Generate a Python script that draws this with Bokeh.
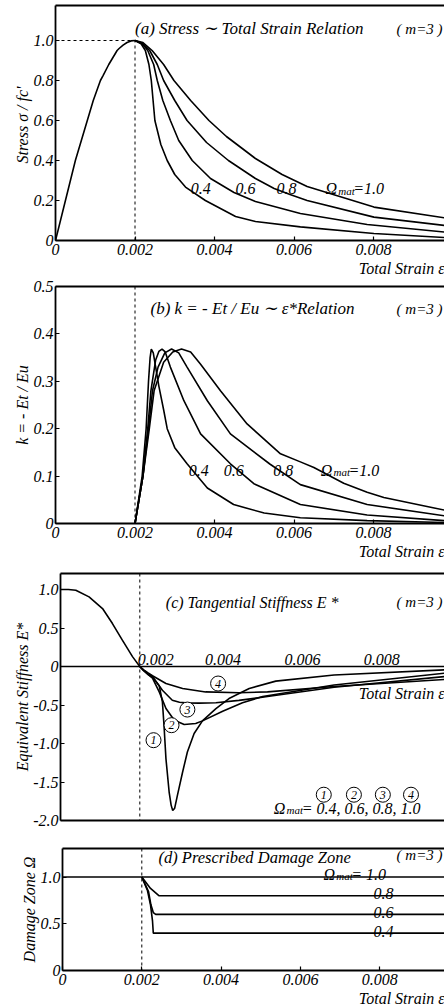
from bokeh.plotting import figure
from bokeh.layouts import column, row
from bokeh.models import FixedTicker, LinearAxis, Label, Span, ColumnDataSource, Title, Spacer
from bokeh.embed import file_html
from bokeh.resources import INLINE
from bokeh.core.properties import value

FONT = "Liberation Serif"

# ---------------- data ----------------
x_ticks = [0, 0.002, 0.004, 0.006, 0.008]
x_tick_labels = ["0", "0.002", "0.004", "0.006", "0.008"]
peak_strain = 0.002
peak_stress = 1.0

# (a) stress - total strain
a_yticks = [0, 0.2, 0.4, 0.6, 0.8, 1.0]
a_ylabels = ["0", "0.2", "0.4", "0.6", "0.8", "1.0"]
a_asc_eps = [0, 0.00025, 0.0005, 0.0008, 0.00095, 0.00113, 0.0012, 0.00134, 0.0014, 0.00155, 0.0016, 0.0017, 0.0018, 0.0019, 0.002]
a_asc_sig = [0, 0.2, 0.4, 0.6, 0.7, 0.8, 0.826, 0.88, 0.9, 0.95, 0.96, 0.977, 0.99, 0.998, 1.0]
a_eps_04 = [0.002, 0.00215, 0.00226, 0.00235, 0.00241, 0.0025, 0.00265, 0.00281, 0.003, 0.00327, 0.00377, 0.00453, 0.00503, 0.00616, 0.00801, 0.0098]
a_sig_04 = [1.0, 0.985, 0.95, 0.88, 0.8, 0.6, 0.48, 0.4, 0.33, 0.267, 0.2, 0.12, 0.095, 0.068, 0.035, 0.015]
a_eps_06 = [0.002, 0.0022, 0.00232, 0.00247, 0.00256, 0.0027, 0.00289, 0.0031, 0.00344, 0.0039, 0.00449, 0.00503, 0.00616, 0.00784, 0.0098]
a_sig_06 = [1.0, 0.98, 0.95, 0.88, 0.8, 0.7, 0.6, 0.5, 0.4, 0.31, 0.24, 0.195, 0.135, 0.08, 0.042]
a_eps_08 = [0.002, 0.0022, 0.00237, 0.00256, 0.00272, 0.003, 0.00331, 0.0038, 0.00435, 0.00503, 0.0055, 0.0059, 0.00633, 0.00801, 0.0098]
a_sig_08 = [1.0, 0.985, 0.95, 0.88, 0.8, 0.7, 0.6, 0.49, 0.4, 0.31, 0.26, 0.23, 0.2, 0.117, 0.075]
a_eps_10 = [0.002, 0.0022, 0.00243, 0.00272, 0.00298, 0.0034, 0.00386, 0.0043, 0.00503, 0.0057, 0.00633, 0.00801, 0.0098]
a_sig_10 = [1.0, 0.99, 0.95, 0.88, 0.8, 0.7, 0.6, 0.52, 0.41, 0.33, 0.27, 0.167, 0.113]

# (b) k = -Et/Eu
b_yticks = [0, 0.1, 0.2, 0.3, 0.4, 0.5]
b_ylabels = ["0", "0.1", "0.2", "0.3", "0.4", "0.5"]
b_eps_04 = [0.002, 0.00218, 0.00228, 0.00234, 0.00238, 0.00241, 0.00246, 0.00252, 0.0026, 0.00272, 0.00281, 0.003, 0.00331, 0.00382, 0.00448, 0.00525, 0.00616, 0.00784, 0.0098]
b_k_04 = [0, 0.1, 0.2, 0.3, 0.35, 0.368, 0.36, 0.33, 0.29, 0.24, 0.2, 0.16, 0.126, 0.075, 0.04, 0.022, 0.012, 0.006, 0.002]
b_eps_06 = [0.002, 0.0022, 0.00232, 0.0024, 0.00252, 0.0026, 0.00268, 0.00276, 0.00289, 0.00323, 0.00365, 0.0044, 0.00499, 0.00616, 0.00784, 0.0098]
b_k_06 = [0, 0.1, 0.2, 0.28, 0.345, 0.363, 0.368, 0.362, 0.33, 0.259, 0.189, 0.126, 0.084, 0.04, 0.018, 0.006]
b_eps_08 = [0.002, 0.0022, 0.00234, 0.00244, 0.00258, 0.00275, 0.00292, 0.0031, 0.00331, 0.00382, 0.0044, 0.0054, 0.00616, 0.00784, 0.0098]
b_k_08 = [0, 0.1, 0.2, 0.28, 0.33, 0.36, 0.368, 0.36, 0.33, 0.259, 0.189, 0.125, 0.082, 0.04, 0.016]
b_eps_10 = [0.002, 0.0022, 0.00236, 0.00248, 0.00272, 0.00295, 0.00317, 0.0034, 0.00365, 0.00415, 0.00482, 0.00566, 0.00616, 0.0065, 0.00725, 0.00784, 0.00826, 0.0098]
b_k_10 = [0, 0.1, 0.2, 0.28, 0.34, 0.362, 0.368, 0.362, 0.336, 0.28, 0.21, 0.147, 0.13, 0.118, 0.085, 0.066, 0.055, 0.028]

# (c) equivalent stiffness
c_yticks = [-2.0, -1.5, -1.0, -0.5, 0, 0.5, 1.0]
c_ylabels = ["-2.0", "-1.5", "-1.0", "-0.5", "0", "0.5", "1.0"]
c_asc_eps = [0, 0.0002, 0.000386, 0.00072, 0.00106, 0.00131, 0.00156, 0.00182, 0.002]
c_asc_E = [1.0, 1.0, 0.99, 0.904, 0.753, 0.558, 0.342, 0.125, 0.0]
c_eps_1 = [0.002, 0.0021, 0.0022, 0.00232, 0.00249, 0.00257, 0.00261, 0.00266, 0.00274, 0.00279, 0.00283, 0.00288, 0.00295, 0.00308, 0.0032, 0.00337, 0.00358, 0.00392, 0.00425, 0.00476, 0.00543, 0.0069, 0.0098]
c_E_1 = [0, -0.055, -0.1, -0.14, -0.25, -0.46, -0.76, -1.2, -1.63, -1.8, -1.87, -1.84, -1.67, -1.37, -1.11, -0.87, -0.706, -0.546, -0.416, -0.286, -0.19, -0.11, -0.04]
c_eps_2 = [0.002, 0.0021, 0.0022, 0.00232, 0.00249, 0.00266, 0.00287, 0.00312, 0.00341, 0.00358, 0.00409, 0.00459, 0.0051, 0.0058, 0.0069, 0.0098]
c_E_2 = [0, -0.055, -0.1, -0.15, -0.33, -0.546, -0.697, -0.754, -0.741, -0.706, -0.58, -0.47, -0.39, -0.33, -0.24, -0.08]
c_eps_3 = [0.002, 0.0021, 0.0022, 0.00232, 0.00257, 0.00282, 0.003, 0.00316, 0.0035, 0.00392, 0.0045, 0.00522, 0.0069, 0.0098]
c_E_3 = [0, -0.05, -0.09, -0.13, -0.308, -0.438, -0.465, -0.472, -0.475, -0.47, -0.44, -0.39, -0.27, -0.125]
c_eps_4 = [0.002, 0.0021, 0.0022, 0.00232, 0.00266, 0.00308, 0.00366, 0.0045, 0.00522, 0.0069, 0.0098]
c_E_4 = [0, -0.045, -0.08, -0.12, -0.221, -0.286, -0.33, -0.34, -0.33, -0.26, -0.165]
c_marks = ["1", "2", "3", "4"]
c_mark_eps = [0.002346, 0.0028, 0.0032, 0.003975]
c_mark_E = [-0.957, -0.762, -0.559, -0.221]
c_legend_eps = [0.00664, 0.0074, 0.00813, 0.00884]
c_legend_text = "= 0.4,  0.6,  0.8,  1.0"

# (d) damage zone
d_yticks = [0, 0.5, 1.0]
d_ylabels = ["0", "0.5", "1.0"]
d_eps_10 = [0, 0.0098]
d_val_10 = [1.0, 1.0]
d_eps_08 = [0.002, 0.00222, 0.00243, 0.0098]
d_val_08 = [1.0, 0.878, 0.8, 0.8]
d_eps_06 = [0.002, 0.00217, 0.00223, 0.00229, 0.00235, 0.0098]
d_val_06 = [1.0, 0.843, 0.703, 0.62, 0.6, 0.6]
d_eps_04 = [0.002, 0.00214, 0.00222, 0.00227, 0.00229, 0.0098]
d_val_04 = [1.0, 0.86, 0.70, 0.53, 0.4, 0.4]
d_level_labels = ["0.8", "0.6", "0.4"]
d_level_values = [0.8, 0.6, 0.4]

W = 444
LW = 1.6
BORDER_L = 55


def txt(p, x, y, text, size=16, align="left", baseline="middle", xo=0, yo=0, style="italic"):
    p.add_layout(Label(x=x, y=y, text=text, text_font=FONT, text_font_style=style,
                       text_font_size=f"{size}px", text_align=align, text_baseline=baseline,
                       x_offset=xo, y_offset=yo, text_color="black"))


def omega(p, x, y, tail, size=16, baseline="middle", yo=0):
    txt(p, x, y, "\u03a9", size=size, baseline=baseline, yo=yo)
    txt(p, x, y, "mat", size=int(size * 0.7), xo=size * 0.8, yo=yo - 2, baseline=baseline)
    txt(p, x, y, tail, size=size, xo=size * 0.8 + size * 0.7 * 1.35, baseline=baseline, yo=yo)


def base_fig(width, height, top, bottom, x_end, y0, y1, yticks, ylabels, ylabel, show_x=True):
    p = figure(width=width, height=height, x_range=(0, x_end), y_range=(y0, y1),
               output_backend="svg", toolbar_location=None,
               min_border_left=BORDER_L, min_border_right=0, min_border_top=top,
               min_border_bottom=bottom)
    p.grid.visible = False
    p.outline_line_color = None
    xa = p.xaxis[0]
    ya = p.yaxis[0]
    for ax in (xa, ya):
        ax.axis_line_width = 1.8
        ax.major_tick_in = 4
        ax.major_tick_out = 0
        ax.minor_tick_in = 0
        ax.minor_tick_out = 0
        ax.major_tick_line_width = 1.2
        ax.major_label_text_font = FONT
        ax.major_label_text_font_style = "italic"
        ax.major_label_text_font_size = "16px"
        ax.major_label_text_color = "black"
        ax.axis_line_color = "black"
        ax.major_tick_line_color = "black"
    if show_x:
        xa.ticker = FixedTicker(ticks=x_ticks)
        xa.major_label_overrides = dict(zip(x_ticks, x_tick_labels))
        p.add_layout(Title(text="Total Strain \u03b5", align="right", text_font=FONT,
                           text_font_style="italic", text_font_size="16px",
                           text_color="black", standoff=0, offset=0), "below")
    else:
        xa.ticker = FixedTicker(ticks=[])
    xa.major_label_standoff = 3
    ya.ticker = FixedTicker(ticks=yticks)
    ya.major_label_overrides = dict(zip(yticks, ylabels))
    ya.major_label_standoff = 2
    p.add_layout(Title(text=ylabel, align="center", text_font=FONT, text_font_style="italic",
                       text_font_size="16px", text_color="black", standoff=0, offset=0), "left")
    top_ax = LinearAxis(ticker=FixedTicker(ticks=[]),
                        major_tick_out=0, major_tick_in=0, minor_tick_out=0, minor_tick_in=0,
                        axis_line_width=2, axis_line_color="black")
    p.add_layout(top_ax, "above")
    return p


dash = dict(line_color="black", line_width=1, line_dash="3 3")
curve = dict(line_color="black", line_width=LW)

# ---------------- (a) ----------------
XA = 0.009786
pa = base_fig(W, 278, 5, 38, XA, 0, 1.175, a_yticks, a_ylabels, "Stress  \u03c3 / fc'")
pa.line([0, peak_strain], [peak_stress, peak_stress], **dash)
pa.line([peak_strain, peak_strain], [0, peak_stress], **dash)
pa.line(a_asc_eps, a_asc_sig, **curve)
for e, s in ((a_eps_04, a_sig_04), (a_eps_06, a_sig_06), (a_eps_08, a_sig_08), (a_eps_10, a_sig_10)):
    pa.line(e, s, **curve)
txt(pa, 0.002, 1.06, "(a)  Stress \u223c Total Strain Relation", size=17)
txt(pa, XA, 1.06, "( m=3 )", size=15, align="right", xo=-2)
txt(pa, 0.0034, 0.26, "0.4")
txt(pa, 0.00453, 0.26, "0.6")
txt(pa, 0.00556, 0.26, "0.8")
omega(pa, 0.00679, 0.26, "=1.0")

# ---------------- (b) ----------------
pb = base_fig(W, 284, 8, 39, XA, 0, 0.5, b_yticks, b_ylabels, "k = - Et / Eu")
pb.add_layout(Span(location=peak_strain, dimension="height", **dash))
for e, k in ((b_eps_04, b_k_04), (b_eps_06, b_k_06), (b_eps_08, b_k_08), (b_eps_10, b_k_10)):
    pb.line(e, k, **curve)
txt(pb, 0.00239, 0.453, "(b)  k = - Et / Eu \u223c \u03b5*Relation", size=17)
txt(pb, XA, 0.453, "( m=3 )", size=15, align="right", xo=-2)
txt(pb, 0.00335, 0.112, "0.4")
txt(pb, 0.00423, 0.112, "0.6")
txt(pb, 0.00548, 0.112, "0.8")
omega(pb, 0.00667, 0.112, "=1.0")

# ---------------- (c) ----------------
XC = 0.009685
SHIFT_C = 5
pc = base_fig(W - SHIFT_C, 268, 11, 10, XC, -2.0, 1.208, c_yticks, c_ylabels, "Equivalent Stiffness E*", show_x=False)
pc.add_layout(Span(location=peak_strain, dimension="height", **dash))
pc.add_layout(Span(location=0, dimension="width", line_color="black", line_width=1.3))
pc.line(c_asc_eps, c_asc_E, **curve)
for e, v in ((c_eps_1, c_E_1), (c_eps_2, c_E_2), (c_eps_3, c_E_3), (c_eps_4, c_E_4)):
    pc.line(e, v, **curve)
lab_src = ColumnDataSource(dict(x=x_ticks[1:], y=[0] * 4, t=x_tick_labels[1:], xo=[-2, -14, -14, -14]))
pc.text(x="x", y="y", text="t", x_offset="xo", y_offset=-2, source=lab_src,
        text_font=value(FONT), text_font_style="italic", text_font_size="16px",
        text_align="left", text_baseline="bottom", text_color="black")
mk_src = ColumnDataSource(dict(x=c_mark_eps, y=c_mark_E, t=c_marks))
pc.scatter(x="x", y="y", source=mk_src, marker="circle", size=15, fill_color="white",
           line_color="black", line_width=1)
pc.text(x="x", y="y", text="t", source=mk_src, text_font=value(FONT), text_font_style="italic",
        text_font_size="12px", text_align="center", text_baseline="middle", text_color="black")
leg_src = ColumnDataSource(dict(x=c_legend_eps, y=[-1.665] * 4, t=c_marks))
pc.scatter(x="x", y="y", source=leg_src, marker="circle", size=15, fill_color=None,
           line_color="black", line_width=1)
pc.text(x="x", y="y", text="t", source=leg_src, text_font=value(FONT), text_font_style="italic",
        text_font_size="12px", text_align="center", text_baseline="middle", text_color="black")
omega(pc, 0.00538, -1.84, c_legend_text)
txt(pc, 0.002656, 0.835, "(c)  Tangential Stiffness E *")
txt(pc, XC, 0.835, "( m=3 )", size=15, align="right", xo=-2)
txt(pc, XC, -0.35, "Total Strain \u03b5", align="right")

# ---------------- (d) ----------------
XD = 0.009634
SHIFT_D = 7
pd_ = base_fig(W - SHIFT_D, 176, 18, 34, XD, 0, 1.305, d_yticks, d_ylabels, "Damage Zone \u03a9")
pd_.add_layout(Span(location=peak_strain, dimension="height", **dash))
for e, v in ((d_eps_10, d_val_10), (d_eps_08, d_val_08), (d_eps_06, d_val_06), (d_eps_04, d_val_04)):
    pd_.line(e, v, **curve)
txt(pd_, 0.00242, 1.21, "(d)  Prescribed Damage Zone", size=16.5)
txt(pd_, XD, 1.235, "( m=3 )", size=15, align="right", xo=-2)
omega(pd_, 0.00658, 1.0, "= 1.0", baseline="alphabetic", yo=3)
for lab, lev in zip(d_level_labels, d_level_values):
    txt(pd_, 0.00835, lev, lab, align="right", baseline="alphabetic", yo=2)

layout = column(pa, pb,
                row(Spacer(width=SHIFT_C, height=268), pc, spacing=0),
                row(Spacer(width=SHIFT_D, height=176), pd_, spacing=0),
                spacing=0)
open("out.html", "w").write(file_html(layout, INLINE))
